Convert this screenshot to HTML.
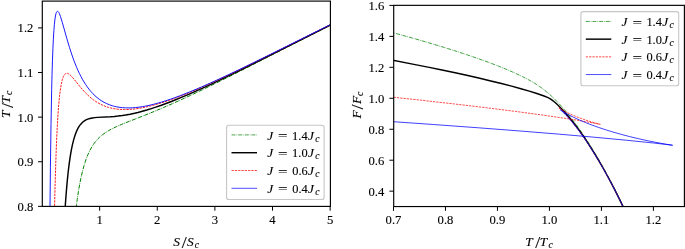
<!DOCTYPE html>
<html><head><meta charset="utf-8"><title>plot</title><style>html,body{margin:0;padding:0;background:#fff}svg{display:block}</style></head><body>
<svg width="685" height="249" viewBox="0 0 685 249">
<rect width="685" height="249" fill="#fff"/>
<defs><clipPath id="cl"><rect x="42.3" y="1.1" width="288.1" height="205.3"/></clipPath><clipPath id="cr"><rect x="393.7" y="5.35" width="290.7" height="201.2"/></clipPath></defs>
<g clip-path="url(#cl)">
<path d="M73.93 228.17 L74.96 217.92 L76.07 208.29 L77.24 199.33 L78.50 191.06 L79.75 183.89 L81.23 176.63 L82.70 170.43 L84.32 164.62 L86.09 159.26 L87.93 154.57 L89.92 150.32 L91.92 146.75 L93.02 145.00 L94.13 143.41 L95.53 141.58 L96.71 140.18 L97.89 138.90 L99.36 137.43 L100.84 136.10 L102.31 134.88 L105.41 132.63 L108.72 130.58 L112.27 128.66 L116.73 126.53 L121.19 124.59 L125.65 122.77 L142.37 116.22 L150.18 113.10 L163.56 107.51 L172.48 103.62 L182.51 99.09 L192.55 94.43 L202.58 89.65 L220.42 80.94 L241.61 70.34 L333.03 23.87" fill="none" stroke="#008000" stroke-width="1.0" stroke-dasharray="4.0 1.0 0.65 1.0" stroke-linejoin="round"/>
<path d="M63.98 227.84 L64.71 214.76 L65.52 202.29 L66.33 191.51 L67.22 181.39 L68.18 172.04 L69.14 164.11 L70.17 156.87 L71.27 150.37 L72.45 144.62 L73.63 139.86 L74.96 135.47 L75.70 133.41 L76.51 131.39 L77.17 129.93 L78.06 128.19 L78.94 126.68 L79.82 125.37 L80.78 124.14 L81.67 123.16 L82.55 122.31 L83.73 121.35 L85.50 120.21 L86.61 119.65 L87.71 119.18 L89.85 118.49 L92.50 117.93 L94.86 117.61 L97.44 117.38 L110.35 116.73 L114.50 116.41 L117.85 116.07 L122.31 115.50 L125.65 114.98 L130.11 114.17 L134.57 113.22 L137.91 112.43 L142.37 111.27 L146.83 110.01 L151.29 108.64 L155.75 107.18 L161.33 105.25 L171.36 101.48 L182.51 96.95 L189.20 94.09 L195.89 91.15 L209.27 85.04 L224.88 77.65 L240.49 70.06 L259.44 60.67 L333.03 23.72" fill="none" stroke="#000000" stroke-width="1.45" stroke-linejoin="round"/>
<path d="M54.17 225.69 L54.98 189.58 L55.94 157.60 L56.46 144.04 L57.05 131.03 L57.64 120.21 L58.22 111.22 L58.89 102.91 L59.55 96.16 L60.29 90.18 L61.10 85.08 L61.98 80.93 L62.43 79.30 L63.02 77.52 L63.53 76.29 L63.98 75.44 L64.64 74.47 L65.23 73.89 L65.89 73.48 L66.33 73.34 L66.85 73.29 L67.37 73.34 L67.81 73.46 L68.55 73.80 L69.87 74.73 L71.35 76.11 L73.12 78.09 L79.60 86.14 L82.55 89.63 L85.50 92.83 L88.16 95.43 L89.92 97.02 L91.69 98.49 L93.46 99.85 L95.38 101.19 L97.22 102.37 L99.07 103.43 L100.91 104.40 L102.75 105.26 L104.96 106.17 L106.95 106.88 L108.72 107.43 L110.93 108.02 L113.39 108.55 L115.62 108.93 L117.85 109.22 L120.08 109.42 L124.54 109.58 L126.77 109.56 L130.11 109.40 L132.34 109.22 L135.68 108.85 L139.03 108.36 L142.37 107.77 L147.95 106.59 L154.64 104.87 L161.33 102.89 L169.13 100.31 L176.94 97.47 L184.74 94.43 L193.66 90.76 L203.70 86.41 L213.73 81.90 L223.77 77.25 L234.92 71.96 L248.30 65.49 L275.05 52.30 L333.03 23.39" fill="none" stroke="#ff0000" stroke-width="0.9" stroke-dasharray="2.3 1.0" stroke-linejoin="round"/>
<path d="M49.82 225.23 L50.41 167.19 L51.00 124.55 L51.66 89.67 L52.03 74.77 L52.47 60.17 L52.92 48.49 L53.36 39.17 L53.88 30.70 L54.39 24.32 L54.98 19.02 L55.64 15.04 L55.94 13.82 L56.38 12.49 L56.82 11.69 L57.12 11.41 L57.56 11.29 L57.93 11.45 L58.52 12.08 L58.96 12.81 L59.40 13.73 L60.51 16.61 L62.28 22.31 L66.85 38.59 L69.50 47.51 L72.31 56.03 L73.78 60.13 L75.25 63.97 L76.73 67.55 L78.06 70.57 L79.38 73.40 L80.93 76.48 L82.48 79.33 L84.03 81.97 L85.58 84.42 L87.12 86.68 L88.89 89.05 L90.88 91.47 L92.95 93.73 L95.01 95.75 L97.08 97.55 L99.43 99.38 L101.87 101.02 L104.08 102.31 L106.66 103.61 L109.24 104.70 L112.27 105.74 L114.50 106.36 L116.73 106.86 L120.08 107.42 L122.31 107.67 L125.65 107.88 L129.00 107.92 L132.34 107.81 L135.68 107.55 L139.03 107.17 L142.37 106.67 L145.72 106.07 L149.06 105.37 L153.52 104.31 L156.87 103.43 L161.33 102.15 L165.79 100.76 L170.25 99.28 L174.71 97.71 L180.28 95.65 L190.32 91.69 L201.47 86.99 L212.62 82.05 L224.88 76.41 L239.38 69.54 L253.87 62.52 L270.59 54.30 L333.03 23.24" fill="none" stroke="#0000ff" stroke-width="0.9" stroke-linejoin="round"/>
</g>
<g clip-path="url(#cr)">
<path d="M383.27 30.07 L398.93 34.30 L414.00 38.51 L428.25 42.64 L441.80 46.71 L454.77 50.77 L466.75 54.69 L478.14 58.59 L488.52 62.34 L498.34 66.08 L506.98 69.59 L514.97 73.06 L522.33 76.52 L528.74 79.85 L534.22 83.00 L536.70 84.55 L539.13 86.17 L541.50 87.85 L543.79 89.58 L546.28 91.57 L548.80 93.70 L551.34 95.99 L553.92 98.44 L556.65 101.17 L559.19 103.83 L561.78 106.67 L564.42 109.69 L567.11 112.90 L569.85 116.29 L575.18 123.23 L580.63 130.84 L586.20 139.10 L591.75 147.82 L597.16 156.80 L602.83 166.68 L608.33 176.75 L613.85 187.32 L619.39 198.40 L624.95 209.97 L630.50 222.01" fill="none" stroke="#008000" stroke-width="0.75" stroke-dasharray="4.0 1.0 0.65 1.0" stroke-linejoin="round"/>
<path d="M383.26 58.50 L413.88 64.34 L427.98 67.14 L442.02 70.02 L455.20 72.82 L467.81 75.58 L479.76 78.30 L490.83 80.92 L501.40 83.53 L511.59 86.17 L520.92 88.72 L529.27 91.16 L536.86 93.53 L543.35 95.77 L548.06 97.63 L549.42 98.28 L550.35 98.85 L552.10 100.10 L554.20 101.79 L556.24 103.58 L558.57 105.77 L560.77 107.96 L563.28 110.60 L565.66 113.22 L568.22 116.19 L573.16 122.25 L578.39 129.16 L583.56 136.47 L588.60 144.03 L593.66 152.05 L598.91 160.80 L604.03 169.76 L609.20 179.23 L614.41 189.19 L619.65 199.64 L624.90 210.55 L630.17 221.91" fill="none" stroke="#000000" stroke-width="1.45" stroke-linejoin="round"/>
<path d="M383.78 96.22 L420.59 100.16 L454.52 103.97 L486.45 107.76 L515.74 111.44 L542.35 115.03 L565.73 118.43 L576.13 120.06 L585.94 121.69 L594.18 123.16 L600.25 124.35 L594.57 122.85 L588.30 120.95 L582.20 118.86 L576.66 116.75 L571.28 114.47 L566.46 112.19 L561.85 109.72 L559.97 108.59 L558.45 107.59 L560.18 109.08 L561.83 110.62 L563.75 112.53 L565.96 114.84 L570.32 119.76 L574.66 125.07 L579.07 130.85 L583.73 137.34 L588.30 144.08 L593.00 151.40 L597.62 158.95 L602.23 166.82 L606.89 175.15 L611.61 183.91 L616.36 193.11 L620.94 202.31 L625.54 211.88 L630.25 222.03" fill="none" stroke="#ff0000" stroke-width="0.7" stroke-dasharray="2.3 1.0" stroke-linejoin="round"/>
<path d="M384.16 121.06 L433.35 124.50 L478.55 127.80 L521.19 131.08 L559.30 134.18 L594.92 137.27 L626.73 140.25 L653.28 142.98 L664.46 144.25 L672.62 145.26 L664.95 144.03 L655.94 142.39 L647.06 140.60 L638.38 138.68 L629.77 136.61 L621.79 134.53 L614.03 132.35 L606.35 130.01 L598.84 127.53 L591.96 125.07 L585.60 122.60 L579.44 120.00 L573.83 117.41 L568.43 114.65 L563.91 112.08 L561.76 110.71 L560.28 109.68 L562.00 111.20 L563.64 112.77 L567.69 117.00 L571.75 121.65 L576.05 126.99 L580.45 132.81 L584.82 138.96 L589.36 145.71 L594.04 153.05 L598.55 160.45 L602.94 168.00 L607.59 176.32 L612.09 184.71 L616.62 193.50 L621.19 202.67 L625.78 212.21 L630.38 222.12" fill="none" stroke="#0000ff" stroke-width="0.75" stroke-linejoin="round"/>
</g>
<rect x="42.3" y="1.1" width="288.1" height="205.3" fill="none" stroke="#000" stroke-width="1.15"/>
<rect x="393.7" y="5.35" width="290.7" height="201.2" fill="none" stroke="#000" stroke-width="1.15"/>
<g font-family="Liberation Serif, serif" fill="#000" stroke="#000" stroke-width="0.12">
<line x1="99.63" y1="206.4" x2="99.63" y2="210.7" stroke="#000" stroke-width="1"/>
<text x="99.63" y="224.2" text-anchor="middle" font-size="12.7">1</text>
<line x1="157.26" y1="206.4" x2="157.26" y2="210.7" stroke="#000" stroke-width="1"/>
<text x="157.26" y="224.2" text-anchor="middle" font-size="12.7">2</text>
<line x1="214.89" y1="206.4" x2="214.89" y2="210.7" stroke="#000" stroke-width="1"/>
<text x="214.89" y="224.2" text-anchor="middle" font-size="12.7">3</text>
<line x1="272.52" y1="206.4" x2="272.52" y2="210.7" stroke="#000" stroke-width="1"/>
<text x="272.52" y="224.2" text-anchor="middle" font-size="12.7">4</text>
<line x1="330.15" y1="206.4" x2="330.15" y2="210.7" stroke="#000" stroke-width="1"/>
<text x="330.15" y="224.2" text-anchor="middle" font-size="12.7">5</text>
<line x1="38" y1="206.35" x2="42.3" y2="206.35" stroke="#000" stroke-width="1"/>
<text x="33.4" y="210.80" text-anchor="end" font-size="12.7" textLength="15.8" lengthAdjust="spacingAndGlyphs">0.8</text>
<line x1="38" y1="161.74" x2="42.3" y2="161.74" stroke="#000" stroke-width="1"/>
<text x="33.4" y="166.19" text-anchor="end" font-size="12.7" textLength="15.8" lengthAdjust="spacingAndGlyphs">0.9</text>
<line x1="38" y1="117.13" x2="42.3" y2="117.13" stroke="#000" stroke-width="1"/>
<text x="33.4" y="121.58" text-anchor="end" font-size="12.7" textLength="15.8" lengthAdjust="spacingAndGlyphs">1.0</text>
<line x1="38" y1="72.52" x2="42.3" y2="72.52" stroke="#000" stroke-width="1"/>
<text x="33.4" y="76.97" text-anchor="end" font-size="12.7" textLength="15.8" lengthAdjust="spacingAndGlyphs">1.1</text>
<line x1="38" y1="27.91" x2="42.3" y2="27.91" stroke="#000" stroke-width="1"/>
<text x="33.4" y="32.36" text-anchor="end" font-size="12.7" textLength="15.8" lengthAdjust="spacingAndGlyphs">1.2</text>
<line x1="393.50" y1="206.55" x2="393.50" y2="210.85" stroke="#000" stroke-width="1"/>
<text x="393.50" y="224.3" text-anchor="middle" font-size="12.7" textLength="15.8" lengthAdjust="spacingAndGlyphs">0.7</text>
<line x1="445.48" y1="206.55" x2="445.48" y2="210.85" stroke="#000" stroke-width="1"/>
<text x="445.48" y="224.3" text-anchor="middle" font-size="12.7" textLength="15.8" lengthAdjust="spacingAndGlyphs">0.8</text>
<line x1="497.46" y1="206.55" x2="497.46" y2="210.85" stroke="#000" stroke-width="1"/>
<text x="497.46" y="224.3" text-anchor="middle" font-size="12.7" textLength="15.8" lengthAdjust="spacingAndGlyphs">0.9</text>
<line x1="549.44" y1="206.55" x2="549.44" y2="210.85" stroke="#000" stroke-width="1"/>
<text x="549.44" y="224.3" text-anchor="middle" font-size="12.7" textLength="15.8" lengthAdjust="spacingAndGlyphs">1.0</text>
<line x1="601.42" y1="206.55" x2="601.42" y2="210.85" stroke="#000" stroke-width="1"/>
<text x="601.42" y="224.3" text-anchor="middle" font-size="12.7" textLength="15.8" lengthAdjust="spacingAndGlyphs">1.1</text>
<line x1="653.40" y1="206.55" x2="653.40" y2="210.85" stroke="#000" stroke-width="1"/>
<text x="653.40" y="224.3" text-anchor="middle" font-size="12.7" textLength="15.8" lengthAdjust="spacingAndGlyphs">1.2</text>
<line x1="389.4" y1="191.17" x2="393.7" y2="191.17" stroke="#000" stroke-width="1"/>
<text x="384.3" y="195.62" text-anchor="end" font-size="12.7" textLength="15.8" lengthAdjust="spacingAndGlyphs">0.4</text>
<line x1="389.4" y1="160.21" x2="393.7" y2="160.21" stroke="#000" stroke-width="1"/>
<text x="384.3" y="164.66" text-anchor="end" font-size="12.7" textLength="15.8" lengthAdjust="spacingAndGlyphs">0.6</text>
<line x1="389.4" y1="129.25" x2="393.7" y2="129.25" stroke="#000" stroke-width="1"/>
<text x="384.3" y="133.70" text-anchor="end" font-size="12.7" textLength="15.8" lengthAdjust="spacingAndGlyphs">0.8</text>
<line x1="389.4" y1="98.29" x2="393.7" y2="98.29" stroke="#000" stroke-width="1"/>
<text x="384.3" y="102.74" text-anchor="end" font-size="12.7" textLength="15.8" lengthAdjust="spacingAndGlyphs">1.0</text>
<line x1="389.4" y1="67.33" x2="393.7" y2="67.33" stroke="#000" stroke-width="1"/>
<text x="384.3" y="71.78" text-anchor="end" font-size="12.7" textLength="15.8" lengthAdjust="spacingAndGlyphs">1.2</text>
<line x1="389.4" y1="36.37" x2="393.7" y2="36.37" stroke="#000" stroke-width="1"/>
<text x="384.3" y="40.82" text-anchor="end" font-size="12.7" textLength="15.8" lengthAdjust="spacingAndGlyphs">1.4</text>
<line x1="389.4" y1="5.41" x2="393.7" y2="5.41" stroke="#000" stroke-width="1"/>
<text x="384.3" y="9.86" text-anchor="end" font-size="12.7" textLength="15.8" lengthAdjust="spacingAndGlyphs">1.6</text>
<text x="173.34" y="245.60" font-size="13.4" font-style="italic">S</text>
<text x="181.80" y="248.20" font-size="17.5" textLength="5.00" lengthAdjust="spacingAndGlyphs">/</text>
<text x="187.04" y="245.60" font-size="13.4" font-style="italic">S</text>
<text x="194.80" y="247.60" font-size="9.6" font-style="italic">c</text>
<text x="525.22" y="245.60" font-size="13.4" font-style="italic">T</text>
<text x="535.30" y="248.20" font-size="17.5" textLength="5.00" lengthAdjust="spacingAndGlyphs">/</text>
<text x="539.72" y="245.60" font-size="13.4" font-style="italic">T</text>
<text x="548.40" y="247.60" font-size="9.6" font-style="italic">c</text>
<g transform="translate(10.0 117.2) rotate(-90)"><text x="-0.88" y="0.00" font-size="13.4" font-style="italic">T</text>
<text x="9.20" y="2.60" font-size="17.5" textLength="5.00" lengthAdjust="spacingAndGlyphs">/</text>
<text x="13.62" y="0.00" font-size="13.4" font-style="italic">T</text>
<text x="22.30" y="2.00" font-size="9.6" font-style="italic">c</text></g>
<g transform="translate(360.7 118.6) rotate(-90)"><text x="0.07" y="0.00" font-size="13.4" font-style="italic">F</text>
<text x="9.20" y="2.60" font-size="17.5" textLength="5.00" lengthAdjust="spacingAndGlyphs">/</text>
<text x="14.57" y="0.00" font-size="13.4" font-style="italic">F</text>
<text x="22.50" y="2.00" font-size="9.6" font-style="italic">c</text></g>
<rect x="226.6" y="125.3" width="97.5" height="74.2" rx="2.3" fill="#fff" fill-opacity="0.8" stroke="#c6c6c6" stroke-width="1.1"/>
<line x1="231.5" y1="134.90" x2="257" y2="134.90" stroke="#008000" stroke-width="0.7" stroke-dasharray="4.0 1.0 0.65 1.0"/>
<text x="267.30" y="139.60" font-size="13.4" font-style="italic">J</text>
<text x="278.13" y="140.20" font-size="13.4" textLength="9.60" lengthAdjust="spacingAndGlyphs">=</text>
<text x="292.11" y="139.60" font-size="12.4">1.4</text>
<text x="307.90" y="139.60" font-size="13.4" font-style="italic">J</text>
<text x="315.30" y="141.60" font-size="9.6" font-style="italic">c</text>
<line x1="231.5" y1="152.70" x2="257" y2="152.70" stroke="#000000" stroke-width="1.45"/>
<text x="267.30" y="157.25" font-size="13.4" font-style="italic">J</text>
<text x="278.13" y="157.85" font-size="13.4" textLength="9.60" lengthAdjust="spacingAndGlyphs">=</text>
<text x="292.11" y="157.25" font-size="12.4">1.0</text>
<text x="307.90" y="157.25" font-size="13.4" font-style="italic">J</text>
<text x="315.30" y="159.25" font-size="9.6" font-style="italic">c</text>
<line x1="231.5" y1="170.50" x2="257" y2="170.50" stroke="#ff0000" stroke-width="0.7" stroke-dasharray="2.3 1.0"/>
<text x="267.30" y="174.90" font-size="13.4" font-style="italic">J</text>
<text x="278.13" y="175.50" font-size="13.4" textLength="9.60" lengthAdjust="spacingAndGlyphs">=</text>
<text x="292.23" y="174.90" font-size="12.4">0.6</text>
<text x="307.90" y="174.90" font-size="13.4" font-style="italic">J</text>
<text x="315.30" y="176.90" font-size="9.6" font-style="italic">c</text>
<line x1="231.5" y1="188.30" x2="257" y2="188.30" stroke="#0000ff" stroke-width="0.7"/>
<text x="267.30" y="192.55" font-size="13.4" font-style="italic">J</text>
<text x="278.13" y="193.15" font-size="13.4" textLength="9.60" lengthAdjust="spacingAndGlyphs">=</text>
<text x="292.23" y="192.55" font-size="12.4">0.4</text>
<text x="307.90" y="192.55" font-size="13.4" font-style="italic">J</text>
<text x="315.30" y="194.55" font-size="9.6" font-style="italic">c</text>
<rect x="580.9" y="11.6" width="97.8" height="74.2" rx="2.3" fill="#fff" fill-opacity="0.8" stroke="#c6c6c6" stroke-width="1.1"/>
<line x1="585.8" y1="21.45" x2="611.3" y2="21.45" stroke="#008000" stroke-width="0.7" stroke-dasharray="4.0 1.0 0.65 1.0"/>
<text x="621.60" y="26.10" font-size="13.4" font-style="italic">J</text>
<text x="632.43" y="26.70" font-size="13.4" textLength="9.60" lengthAdjust="spacingAndGlyphs">=</text>
<text x="646.41" y="26.10" font-size="12.4">1.4</text>
<text x="662.20" y="26.10" font-size="13.4" font-style="italic">J</text>
<text x="669.60" y="28.10" font-size="9.6" font-style="italic">c</text>
<line x1="585.8" y1="39.15" x2="611.3" y2="39.15" stroke="#000000" stroke-width="1.45"/>
<text x="621.60" y="43.75" font-size="13.4" font-style="italic">J</text>
<text x="632.43" y="44.35" font-size="13.4" textLength="9.60" lengthAdjust="spacingAndGlyphs">=</text>
<text x="646.41" y="43.75" font-size="12.4">1.0</text>
<text x="662.20" y="43.75" font-size="13.4" font-style="italic">J</text>
<text x="669.60" y="45.75" font-size="9.6" font-style="italic">c</text>
<line x1="585.8" y1="56.85" x2="611.3" y2="56.85" stroke="#ff0000" stroke-width="0.7" stroke-dasharray="2.3 1.0"/>
<text x="621.60" y="61.40" font-size="13.4" font-style="italic">J</text>
<text x="632.43" y="62.00" font-size="13.4" textLength="9.60" lengthAdjust="spacingAndGlyphs">=</text>
<text x="646.53" y="61.40" font-size="12.4">0.6</text>
<text x="662.20" y="61.40" font-size="13.4" font-style="italic">J</text>
<text x="669.60" y="63.40" font-size="9.6" font-style="italic">c</text>
<line x1="585.8" y1="74.55" x2="611.3" y2="74.55" stroke="#0000ff" stroke-width="0.7"/>
<text x="621.60" y="79.05" font-size="13.4" font-style="italic">J</text>
<text x="632.43" y="79.65" font-size="13.4" textLength="9.60" lengthAdjust="spacingAndGlyphs">=</text>
<text x="646.53" y="79.05" font-size="12.4">0.4</text>
<text x="662.20" y="79.05" font-size="13.4" font-style="italic">J</text>
<text x="669.60" y="81.05" font-size="9.6" font-style="italic">c</text>
</g>
</svg>
</body></html>
